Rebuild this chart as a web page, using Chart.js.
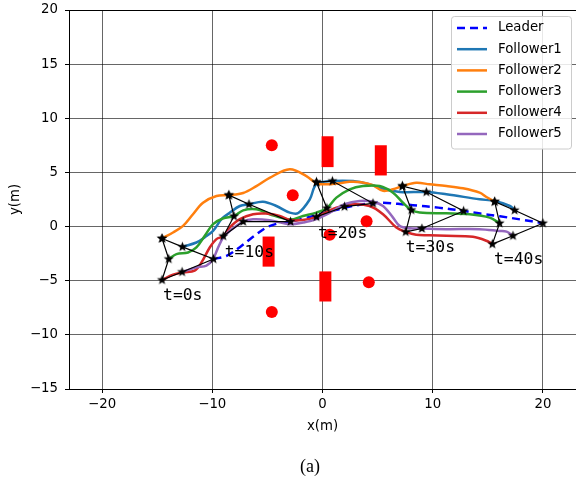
<!DOCTYPE html>
<html>
<head>
<meta charset="utf-8">
<script src="https://cdn.jsdelivr.net/npm/chart.js@4"></script>
<style>
  html, body { margin: 0; padding: 0; background: #fff; }
  #wrap { position: relative; width: 576px; height: 485px; }
  #caption { position: absolute; left: 310px; top: 456px; transform: translateX(-50%);
             font-family: "Liberation Serif", "DejaVu Serif", serif; font-size: 18px; line-height: 20px; color: #000; }
</style>
</head>
<body>
<div id="wrap">
  <canvas id="myChart" width="576" height="485"></canvas>
  <div id="caption">(a)</div>
</div>
<script>
// tick labels
const xTicks = [-20, -10, 0, 10, 20];
const yTicks = [-15, -10, -5, 0, 5, 10, 15, 20];

// agents
const names = ['Leader', 'Follower1', 'Follower2', 'Follower3', 'Follower4', 'Follower5'];
const colors = ['#0000ff', '#1f77b4', '#ff7f0e', '#2ca02c', '#d62728', '#9467bd'];

// trajectories [x, y]
const leader = [[-9.89,-3.0],[-8.7,-2.7],[-7.5,-1.9],[-6.3,-0.95],[-5.1,-0.1],[-4.0,0.3],[-2.9,0.46],
  [-1.5,0.8],[0,1.2],[1.5,1.6],[3,1.95],[4.58,2.15],[5.5,2.2],[8.2,1.97],[10.5,1.75],[12.8,1.44],
  [14.3,1.2],[16.1,0.95],[18,0.65],[20,0.31]];
const follower1 = [[-12.71,-1.87],[-11.44,-1.47],[-10.7,-1.0],[-9.93,-0.4],[-9.17,0.68],[-8.4,1.29],
  [-7.5,1.9],[-6.67,2.06],[-5.4,2.3],[-4.18,1.9],[-2.97,1.29],[-2.2,1.25],[-1.16,2.5],[-0.55,3.9],
  [0.9,4.2],[2.77,4.2],[4.28,3.9],[5.5,3.5],[7.0,3.2],[9.42,3.19],[11.24,2.98],[14.26,2.52],
  [15.62,2.36],[17.0,1.9],[17.43,1.51]];
const follower2 = [[-14.56,-1.10],[-13.56,-0.55],[-12.65,0.06],[-11.75,1.14],[-10.84,2.2],[-9.62,2.82],
  [-8.5,2.9],[-7.2,3.1],[-6.0,3.74],[-4.8,4.5],[-2.97,5.3],[-1.46,4.66],[-0.55,4.0],[0.35,3.9],
  [1.56,4.0],[2.47,4.14],[3.5,4.1],[4.5,3.85],[5.5,3.3],[6.4,3.45],[7.25,3.74],[8.5,4.04],[9.72,3.9],
  [11.24,3.74],[12.74,3.53],[14.26,3.13],[14.87,2.73],[15.62,2.30]];
const follower3 = [[-13.95,-3.0],[-13.25,-2.54],[-12.2,-2.39],[-11.44,-1.93],[-10.68,-0.85],[-9.93,0.22],
  [-9.0,0.77],[-8.03,0.96],[-7.2,1.5],[-6.0,1.6],[-4.8,1.14],[-2.97,0.65],[-1.77,0.98],[-0.55,1.29],
  [0.4,1.7],[1.26,2.67],[2.47,3.44],[3.67,3.74],[5.19,3.74],[6.4,3.13],[7.3,2.2],[8.06,1.53],
  [8.82,1.29],[11.24,1.23],[13.35,1.14],[15.17,0.83],[16.07,0.31]];
const follower4 = [[-14.56,-4.93],[-13.56,-4.44],[-12.65,-4.23],[-11.6,-4.07],[-10.98,-3.31],[-10.23,-1.93],
  [-9.62,-1.16],[-9.0,-0.88],[-8.42,-0.09],[-7.5,0.68],[-6.3,1.14],[-5.09,1.2],[-3.88,0.98],[-2.97,0.6],
  [-1.8,0.6],[-0.55,0.9],[1.26,1.75],[2.77,2.06],[4.28,1.9],[5.49,1.14],[6.7,-0.09],[7.55,-0.49],
  [8.5,-0.76],[9.72,-0.8],[11.24,-0.85],[13.65,-0.95],[14.87,-1.31],[15.41,-1.62]];
const follower5 = [[-12.74,-4.19],[-11.44,-3.77],[-10.53,-3.61],[-9.93,-3.0],[-9.47,-1.93],[-9.0,-1.0],
  [-8.42,-0.4],[-7.2,0.46],[-6.3,0.68],[-4.8,0.59],[-2.97,0.22],[-1.77,0.37],[-0.55,0.68],[0.95,1.44],
  [2.0,2.06],[3.37,2.36],[4.58,2.3],[5.49,1.9],[6.4,0.83],[7.0,0.06],[7.9,-0.15],[9.02,-0.18],
  [11.24,-0.24],[14.26,-0.24],[16.07,-0.4],[16.7,-0.46],[17.28,-0.85]];
const trajs = [leader, follower1, follower2, follower3, follower4, follower5];

// formation snapshots, order: Leader, F1..F5
const form0  = [[-9.89,-3.0],[-12.71,-1.87],[-14.56,-1.10],[-13.95,-3.0],[-14.56,-4.93],[-12.74,-4.19]];
const form10 = [[-2.9,0.46],[-6.67,2.06],[-8.5,2.9],[-8.03,0.96],[-9.0,-0.88],[-7.2,0.46]];
const form20 = [[4.58,2.15],[0.9,4.2],[-0.55,4.1],[0.4,1.7],[-0.55,0.9],[2.0,1.84]];
const form30 = [[12.8,1.44],[9.42,3.19],[7.25,3.74],[8.06,1.53],[7.55,-0.49],[9.02,-0.18]];
const form40 = [[20.0,0.31],[17.43,1.51],[15.62,2.30],[16.07,0.31],[15.41,-1.62],[17.28,-0.85]];
const forms = [form0, form10, form20, form30, form40];
const loopOrder = [2, 1, 0, 5, 4, 3, 2];

const timeLabels = ['t=0s', 't=10s', 't=20s', 't=30s', 't=40s'];
const labelPos = [[-14.47,-6.37],[-8.87,-2.39],[-0.41,-0.70],[7.55,-1.99],[15.56,-3.09]];

// obstacles
const circles = [[-4.6,7.5],[-2.7,2.9],[0.65,-0.76],[4.0,0.5],[4.2,-5.15],[-4.6,-7.9]];
const rects = [[0.46,5.49,8.34],[5.29,4.72,7.51],[-4.89,-3.70,-0.92],[0.26,-6.92,-4.14]]; // x, y0, y1

function makeStar(r) {
  const c = document.createElement('canvas');
  const s = Math.ceil(r * 2 + 2);
  c.width = s; c.height = s;
  const g = c.getContext('2d');
  g.beginPath();
  for (let i = 0; i < 10; i++) {
    const rr = i % 2 === 0 ? r : r * 0.42;
    const a = -Math.PI / 2 + i * Math.PI / 5;
    const px = s / 2 + rr * Math.cos(a), py = s / 2 + rr * Math.sin(a);
    if (i === 0) g.moveTo(px, py); else g.lineTo(px, py);
  }
  g.closePath();
  g.fillStyle = '#000';
  g.fill();
  return c;
}
const star = makeStar(5.3);

const datasets = [];
forms.forEach((f, i) => {
  datasets.push({
    label: timeLabels[i],
    data: loopOrder.map(k => ({x: f[k][0], y: f[k][1]})),
    showLine: true, borderColor: '#000', borderWidth: 1.2, tension: 0,
    pointStyle: star, pointRadius: 5, order: 1
  });
});
trajs.forEach((t, i) => {
  datasets.push({
    label: names[i],
    data: t.map(p => ({x: p[0], y: p[1]})),
    showLine: true, borderColor: colors[i], borderWidth: 2.5,
    borderDash: i === 0 ? [8, 5] : [], pointRadius: 0, tension: 0.35,
    order: 2 + (trajs.length - i) * 0.01
  });
});
rects.forEach((r, i) => {
  datasets.push({
    label: 'rect' + i,
    data: [{x: r[0], y: r[1]}, {x: r[0], y: r[2]}],
    showLine: true, borderColor: '#ff0000', borderWidth: 12, borderCapStyle: 'butt',
    pointRadius: 0, order: 3
  });
});
datasets.push({
  label: 'circles',
  data: circles.map(p => ({x: p[0], y: p[1]})),
  backgroundColor: '#ff0000', borderWidth: 0, pointRadius: 6, order: 3
});

const fmt = v => v < 0 ? '\u2212' + Math.abs(v) : String(v);
const tickFont = {family: 'DejaVu Sans', size: 13.3};
const gridStyle = {color: 'rgba(0,0,0,0.6)', borderDash: [1, 2], lineWidth: 1,
  tickLength: 4, tickColor: '#000', tickBorderDash: [], tickWidth: 1};
const noPad = s => { s.paddingTop = 0; s.paddingBottom = 0; s.paddingLeft = 0; s.paddingRight = 0; };

// t=..s labels
const timeText = {
  id: 'timeText',
  afterDatasetsDraw(chart) {
    const {ctx, scales} = chart;
    ctx.save();
    ctx.font = '16.4px "DejaVu Sans Mono"';
    ctx.fillStyle = '#000';
    ctx.textAlign = 'left';
    ctx.textBaseline = 'middle';
    timeLabels.forEach((t, i) => {
      ctx.fillText(t, scales.x.getPixelForValue(labelPos[i][0]), scales.y.getPixelForValue(labelPos[i][1]));
    });
    ctx.restore();
  }
};

// legend box in the upper right corner
const legendBox = {
  id: 'legendBox',
  afterDraw(chart) {
    const ctx = chart.ctx;
    const x0 = 451.5, y0 = 16.5, w = 120, h = 132.5, r = 3;
    ctx.save();
    ctx.beginPath();
    ctx.moveTo(x0 + r, y0);
    ctx.arcTo(x0 + w, y0, x0 + w, y0 + h, r);
    ctx.arcTo(x0 + w, y0 + h, x0, y0 + h, r);
    ctx.arcTo(x0, y0 + h, x0, y0, r);
    ctx.arcTo(x0, y0, x0 + w, y0, r);
    ctx.closePath();
    ctx.fillStyle = 'rgba(255,255,255,0.85)';
    ctx.fill();
    ctx.strokeStyle = '#cccccc';
    ctx.lineWidth = 1;
    ctx.stroke();
    ctx.font = '13.3px "DejaVu Sans"';
    ctx.textBaseline = 'middle';
    ctx.fillStyle = '#000';
    names.forEach((n, i) => {
      const yy = 28 + i * 21.2;
      ctx.beginPath();
      ctx.strokeStyle = colors[i];
      ctx.lineWidth = 2.5;
      ctx.setLineDash(i === 0 ? [8, 5] : []);
      ctx.moveTo(457, yy);
      ctx.lineTo(487, yy);
      ctx.stroke();
      ctx.fillText(n, 498, yy);
    });
    ctx.restore();
  }
};

const config = {
  type: 'scatter',
  data: { datasets: datasets },
  options: {
    responsive: false,
    animation: false,
    layout: { autoPadding: false, padding: { top: 10, right: 0, left: 0, bottom: 0 } },
    plugins: { legend: { display: false }, tooltip: { enabled: false } },
    scales: {
      x: {
        type: 'linear', position: 'bottom', min: -23, max: 23,
        afterBuildTicks: s => { s.ticks = xTicks.map(v => ({value: v})); },
        afterFit: s => { s.height = 96; noPad(s); },
        grid: gridStyle,
        border: { color: '#000', width: 1 },
        ticks: { font: tickFont, color: '#000', padding: 4, maxRotation: 0, autoSkip: false, callback: v => fmt(v) },
        title: { display: true, text: 'x(m)', font: tickFont, color: '#000', padding: { top: 0, bottom: 50 } }
      },
      x2: {
        type: 'linear', position: 'top', min: -23, max: 23,
        afterFit: s => { s.height = 0; noPad(s); },
        grid: { display: false, drawTicks: false },
        border: { color: '#000', width: 1 },
        ticks: { display: false }
      },
      y: {
        type: 'linear', position: 'left', min: -15, max: 20,
        afterBuildTicks: s => { s.ticks = yTicks.map(v => ({value: v})); },
        afterFit: s => { s.width = 69; noPad(s); },
        grid: gridStyle,
        border: { color: '#000', width: 1 },
        ticks: { font: tickFont, color: '#000', padding: 7, autoSkip: false, callback: v => fmt(v) },
        title: { display: true, text: 'y(m)', font: tickFont, color: '#000', padding: { top: 8, bottom: 0 } }
      }
    }
  },
  plugins: [timeText, legendBox]
};

const myChart = new Chart(document.getElementById('myChart'), config);
</script>
</body>
</html>
